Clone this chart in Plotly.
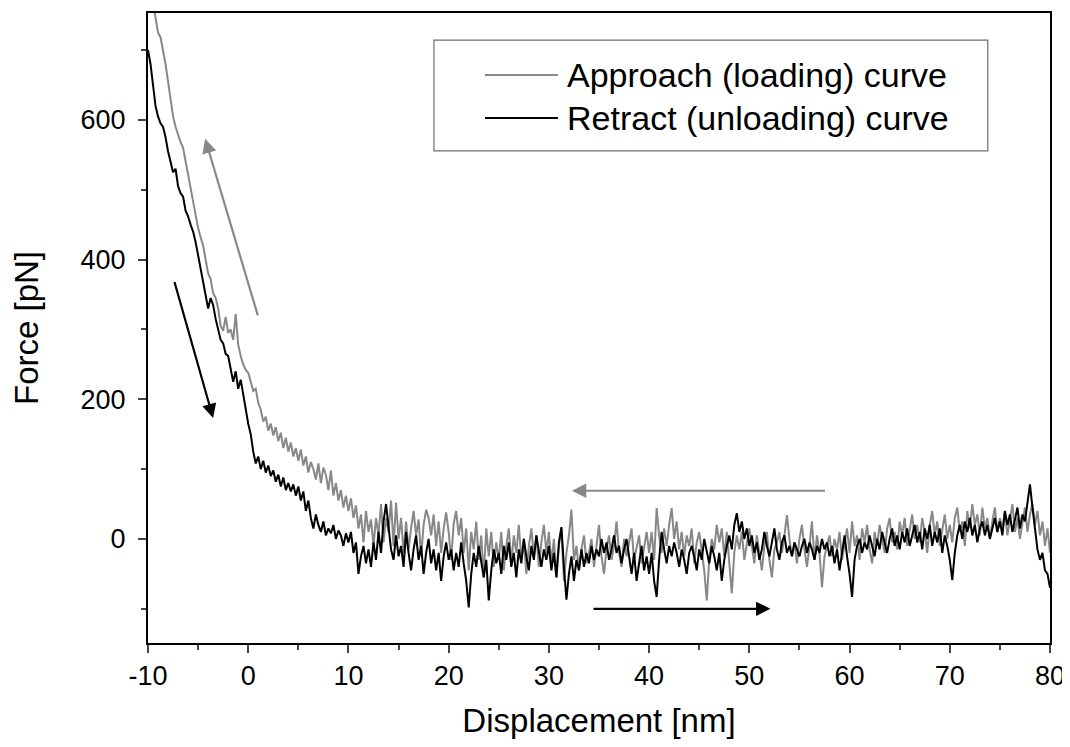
import numpy as np
import plotly.graph_objects as go

# Sampling grid of displacement (nm)
x_start = -10.0
x_step = 0.25

# Approach (loading) curve, force in pN, one value per 0.25 nm from -10 to 80
approach_force = [
    810, 790, 765, 745, 725, 718, 700, 680, 655, 630, 605, 590, 578, 568, 560, 540, 520, 500, 485, 462,
    445, 432, 420, 400, 380, 372, 352, 345, 330, 305, 298, 318, 295, 300, 285, 322, 278, 262, 250, 242,
    238, 225, 212, 215, 195, 185, 168, 175, 155, 165, 148, 160, 140, 152, 130, 145, 125, 138, 118, 130,
    112, 128, 105, 118, 95, 110, 100, 85, 108, 80, 102, 92, 70, 98, 62, 80, 55, 70, 45, 62,
    40, 58, 30, 48, 15, 35, -5, 40, 10, 28, -10, 30, 5, 50, -5, 30, 10, 55, -10, 52,
    0, 30, -20, 25, -15, 15, 40, 5, 28, -25, 20, 42, 30, 5, 35, -10, 25, -20, 15, 38,
    10, -30, 22, 40, 5, 30, -20, 15, -45, 10, -15, 25, -30, 5, -55, 15, -25, 10, -40, -5,
    -30, 10, -45, -10, 15, -35, 5, -20, 20, -30, 0, -50, -10, 15, -25, 5, -40, -5, 20, -20,
    10, -35, 0, -55, -10, 15, -60, -20, 5, 42, -30, -10, -45, -15, 5, -35, -20, 0, -40, -10,
    20, -25, -50, -15, 5, -30, -10, 25, -20, -40, 0, -25, -5, 15, -30, -10, 5, -35, -15, 10,
    -20, 10, -30, 44, 5, -20, 15, -10, 20, 44, 0, 25, -15, 10, -25, 5, -10, 15, -35, -5,
    10, -20, -45, -88, -30, 0, -15, 20, -5, 15, -25, 10, -40, -78, -20, 5, -15, 10, -30, -5,
    15, -10, -35, 5, -20, -45, -10, 10, -30, -55, -15, -5, 10, -20, 5, 34, 0, -25, -5, -35,
    0, 20, -15, -40, -10, 25, -30, 5, -20, -69, -25, -10, 5, -25, 0, -15, 10, -30, -5, 15,
    -20, 25, -10, 5, -30, 15, -5, 20, -15, -35, 10, -10, 20, 0, -20, 15, 30, -5, 10, -15,
    25, 5, 30, -10, 15, 35, 0, 20, -5, 30, 10, -20, 20, 40, 5, 25, -10, 15, 35, 0,
    20, -5, 30, 45, 10, 25, -10, 40, 15, 50, 20, 35, 5, 45, 15, 30, 0, 25, 45, 10,
    30, 15, 40, 5, 25, 50, 10, 30, 0, 20, 45, 10, 35, 50, 20, 40, 5, 25, -10, 15,
    -20,
]

# Retract (unloading) curve
retract_force = [
    700, 680, 650, 620, 605, 595, 590, 575, 555, 540, 525, 530, 505, 495, 490, 470, 462, 450, 440, 425,
    405, 385, 370, 345, 330, 345, 335, 315, 300, 285, 280, 265, 262, 245, 225, 240, 215, 228, 205, 185,
    165, 150, 125, 108, 118, 100, 112, 95, 105, 90, 98, 82, 92, 75, 88, 70, 80, 68, 78, 62,
    75, 55, 68, 40, 55, 30, 15, 35, 20, 10, 25, 5, 15, 8, 20, 0, 12, 5, -10, 8,
    -5, 10, -20, -5, -50, -25, -10, -35, -15, -40, -5, -30, 10, -20, 25, 50, 15, -15, -30, 5,
    -25, -10, -40, 10, -20, -45, -15, 5, -30, -10, -50, -20, 0, -35, -15, -45, -20, -60, -25, -5,
    -30, -15, -45, -20, -40, -5, -35, -60, -98, -50, -20, -40, -10, -35, -55, -30, -88, -45, -15, -35,
    -20, -50, -10, -30, -5, -40, -20, -55, -15, -35, 0, -25, -45, -10, -30, 5, -20, -40, -15, -30,
    -10, -45, -20, -55, -5, 17, -40, -87, -50, -25, -60, -30, -45, -15, -40, -20, -35, -10, -30, -15,
    -25, 0, -20, -5, -30, -15, 5, -20, -10, -35, -15, 0, -25, -50, -20, -60, -35, -10, -45, -25,
    -50, -20, -60, -83, -30, 10, -15, -35, -10, -25, -5, -20, -40, -15, -30, -50, -20, -10, -25, -45,
    -15, -30, 0, -20, -35, -10, -25, -45, -20, -60, -30, -10, 5, -15, 20, 37, 10, 25, 0, 15,
    -10, 5, -20, -5, -30, -15, 10, -10, -25, -5, 15, -15, -30, -5, 5, -20, -10, -25, -5, -15,
    -25, -10, 0, -20, -5, -15, -30, -10, -20, 0, -15, -5, -25, -10, -35, -15, -45, -20, 5, -25,
    -50, -83, -30, -10, 0, -20, -5, -15, 5, -10, -25, 0, -15, 10, -5, -20, 0, 15, -10, 5,
    -15, 10, -5, 15, -10, 5, 20, -5, 10, -15, 15, 0, 20, -10, 10, -5, 15, -20, 5, -10,
    -30, -59, -20, 5, 20, 0, 25, 10, 30, 5, 20, -5, 15, 25, 5, 20, 0, 15, 30, 10,
    25, 5, 40, 20, 35, 10, 30, 45, 15, 35, 25, 50, 78, 45, 10, -15, -30, -20, -45, -50,
    -70,
]

disp_approach = x_start + x_step * np.arange(len(approach_force))
disp_retract = x_start + x_step * np.arange(len(retract_force))

x_tick_values = [-10, 0, 10, 20, 30, 40, 50, 60, 70, 80]
x_tick_labels = ["-10", "0", "10", "20", "30", "40", "50", "60", "70", "80"]
y_tick_values = [0, 200, 400, 600]
y_tick_labels = ["0", "200", "400", "600"]

# Direction arrows: (tail_x, tail_y, head_x, head_y, colour)
arrows = [
    (1.0, 318, -4.3, 573, "#888888"),
    (-7.4, 370, -3.5, 173, "#000000"),
    (57.7, 69, 32.3, 69, "#888888"),
    (34.3, -100, 52.1, -100, "#000000"),
]

legend_labels = ["Approach (loading) curve", "Retract (unloading) curve"]
legend_colors = ["#888888", "#000000"]

FONT = "Liberation Sans, Arial, sans-serif"

fig = go.Figure()
fig.add_trace(go.Scatter(x=disp_approach, y=approach_force, mode="lines",
                         line=dict(color=legend_colors[0], width=2),
                         name=legend_labels[0], showlegend=False))
fig.add_trace(go.Scatter(x=disp_retract, y=retract_force, mode="lines",
                         line=dict(color=legend_colors[1], width=2),
                         name=legend_labels[1], showlegend=False))

for tx, ty, hx, hy, col in arrows:
    fig.add_annotation(x=hx, y=hy, ax=tx, ay=ty, xref="x", yref="y", axref="x", ayref="y",
                       showarrow=True, arrowhead=2, arrowsize=1.3, arrowwidth=2.2,
                       arrowcolor=col, standoff=0, text="")

# Manual legend box
fig.add_shape(type="rect", xref="paper", yref="paper", x0=0.317, x1=0.931, y0=0.781, y1=0.957,
              line=dict(color="#6e6e6e", width=1.2), fillcolor="white", layer="above")
for i, (lab, col) in enumerate(zip(legend_labels, legend_colors)):
    yy = 0.9016 - i * 0.0683
    fig.add_shape(type="line", xref="paper", yref="paper", x0=0.3736, x1=0.4545, y0=yy, y1=yy,
                  line=dict(color=col, width=2), layer="above")
    fig.add_annotation(x=0.4622, y=yy, xref="paper", yref="paper", text=lab, showarrow=False,
                       xanchor="left", yanchor="middle", font=dict(family=FONT, size=34, color="black"))

fig.update_layout(
    width=1070, height=747,
    margin=dict(l=140, r=28, t=5, b=112),
    paper_bgcolor="white", plot_bgcolor="white",
    font=dict(family=FONT, color="black"),
)
fig.update_xaxes(
    range=[-10, 80], tickvals=x_tick_values, ticktext=x_tick_labels,
    ticks="outside", ticklen=8, tickwidth=2, automargin=False,
    minor=dict(dtick=5, ticklen=5, tickwidth=2, ticks="outside", tick0=-10),
    showline=True, linewidth=2, linecolor="black", mirror=True, showgrid=False, zeroline=False,
    tickfont=dict(size=27), title=dict(text="Displacement [nm]", font=dict(size=33), standoff=18),
)
fig.update_yaxes(
    range=[-149, 753], tickvals=y_tick_values, ticktext=y_tick_labels,
    ticks="outside", ticklen=8, tickwidth=2, automargin=False, ticklabelstandoff=7,
    minor=dict(dtick=100, ticklen=5, tickwidth=2, ticks="outside", tick0=0),
    showline=True, linewidth=2, linecolor="black", mirror=True, showgrid=False, zeroline=False,
    tickfont=dict(size=27), title=dict(text="Force [pN]", font=dict(size=33), standoff=34),
)

fig.write_html("out.html")
